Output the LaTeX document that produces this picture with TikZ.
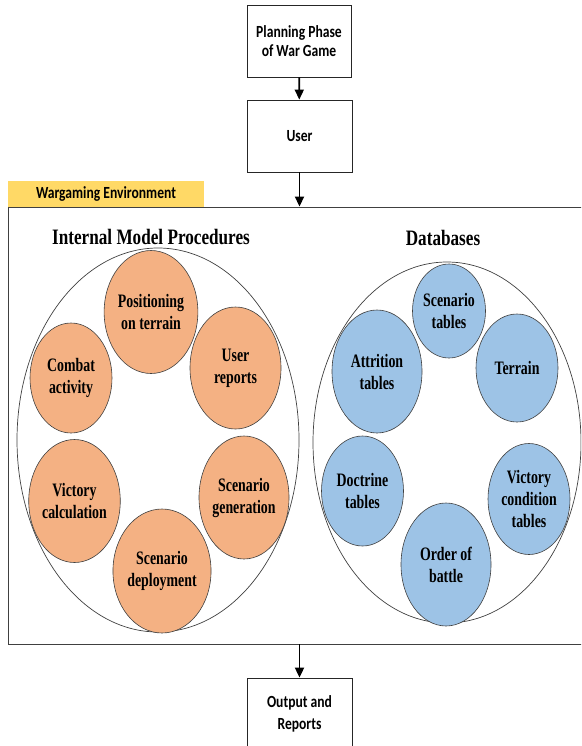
\documentclass[tikz,border=0pt]{standalone}
\usepackage{fontspec}
\setmainfont{Liberation Serif}[FakeStretch=0.78]
\newfontfamily\elfont{Liberation Serif}[FakeStretch=0.73]
\newfontfamily\calfont{Carlito}[FakeStretch=0.8]
\usetikzlibrary{shapes.geometric,arrows.meta}
\definecolor{orangefill}{HTML}{F4B183}
\definecolor{bluefill}{HTML}{9DC3E6}
\definecolor{goldfill}{HTML}{FFD966}
\definecolor{edgegray}{HTML}{404040}
\begin{document}
\begin{tikzpicture}[x=1pt,y=-1pt,
  box/.style={draw=black!85, line width=0.8pt, fill=white, align=center, inner sep=0pt,
    font=\calfont\bfseries\fontsize{17}{19.5}\selectfont},
  frame/.style={draw=edgegray, line width=0.9pt, inner sep=0pt},
  goldlabel/.style={fill=goldfill, inner sep=0pt, font=\calfont\bfseries\fontsize{17}{19.5}\selectfont},
  arr/.style={line width=1.8pt, -{Triangle[length=10pt,width=9pt]}},
  bigel/.style={ellipse, draw=edgegray, line width=0.7pt, inner sep=0pt},
  oel/.style={ellipse, draw=edgegray, line width=0.6pt, fill=orangefill, inner sep=0pt,
    align=center, font=\elfont\bfseries\fontsize{19}{22}\selectfont},
  bel/.style={ellipse, draw=edgegray, line width=0.6pt, fill=bluefill, inner sep=0pt,
    align=center, font=\elfont\bfseries\fontsize{19}{22}\selectfont},
  titletext/.style={inner sep=0pt, font=\bfseries\fontsize{22}{26}\selectfont}
]
\useasboundingbox (0,0) rectangle (581,746);
\clip (0,0) rectangle (581,746);

% top boxes
\node[box, minimum width=104pt, minimum height=72pt] (plan) at (299,41) {Planning Phase\\of War Game};
\node[box, minimum width=105pt, minimum height=72pt] (user) at (299.5,136) {User};

% environment frame
\node[frame, minimum width=582pt, minimum height=437pt] (env) at (299,425.5) {};
\node[goldlabel, minimum width=196pt, minimum height=26pt] (envlabel) at (106,194) {Wargaming Environment};

% output box
\node[box, minimum width=105pt, minimum height=72pt,
  font=\calfont\bfseries\fontsize{17}{22}\selectfont] (out) at (299.5,714) {Output and\\Reports};

% arrows
\draw[arr] (plan) -- (user);
\draw[arr] (user) -- (user.south |- env.north);
\draw[arr] (env.south -| out.north) -- (out);

% titles
\node[titletext, anchor=base] (imptitle) at (151,244) {Internal Model Procedures};
\node[titletext, anchor=base] (dbtitle) at (443,245) {Databases};

% big ellipses
\node[bigel, minimum width=282pt, minimum height=384pt] (imp) at (158,440) {};
\node[bigel, minimum width=268pt, minimum height=361pt] (db) at (447,442.5) {};

% orange ellipses
\node[oel, minimum width=90pt, minimum height=123pt] (posit) at (151,312) {Positioning\\on terrain};
\node[oel, minimum width=91pt, minimum height=122pt] (urep) at (235.5,368) {User\\reports};
\node[oel, minimum width=82pt, minimum height=110pt] (combat) at (71,378) {Combat\\activity};
\node[oel, minimum width=91pt, minimum height=123pt] (vcalc) at (74.5,501) {Victory\\calculation};
\node[oel, minimum width=90pt, minimum height=123pt] (sgen) at (244,497.5) {Scenario\\generation};
\node[oel, minimum width=90pt, minimum height=124pt] (sdep) at (162,571) {Scenario\\deployment};

% blue ellipses
\node[bel, minimum width=70pt, minimum height=94pt] (stab) at (449,311) {Scenario\\tables};
\node[bel, minimum width=90pt, minimum height=123pt] (attr) at (377,371.5) {Attrition\\tables};
\node[bel, minimum width=82pt, minimum height=108pt] (terr) at (517,368) {Terrain};
\node[bel, minimum width=82pt, minimum height=110pt] (doct) at (362.5,491) {Doctrine\\tables};
\node[bel, minimum width=82pt, minimum height=111pt] (vcond) at (529,499) {Victory\\condition\\tables};
\node[bel, minimum width=90pt, minimum height=123pt] (oob) at (446,564.5) {Order of\\battle};
\end{tikzpicture}
\end{document}
